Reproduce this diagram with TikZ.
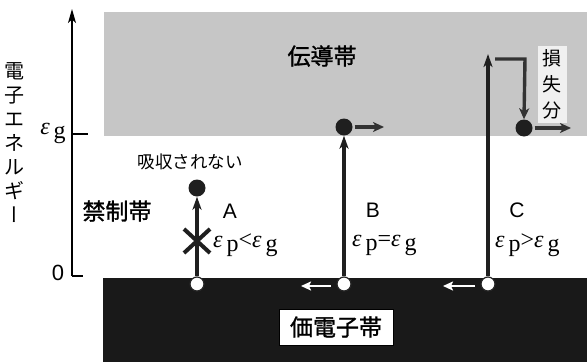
\documentclass[tikz,border=0pt]{standalone}
\usepackage{fontspec}
\setmainfont{Liberation Serif}
\newfontfamily\jp{Noto Sans CJK JP}
\newfontfamily\jpb[FakeBold=1.3]{Noto Sans CJK JP}
\newfontfamily\lat{Liberation Sans}
\usetikzlibrary{arrows.meta}
\newcommand\epsf[1]{{\itshape ε}\hspace{4pt}\raisebox{-4pt}{#1}}
\begin{document}
\begin{tikzpicture}[x=1pt,y=-1pt,
  hole/.style={circle,draw=black!85,fill=white,line width=1.2pt,minimum size=14pt,inner sep=0pt},
  elec/.style={circle,fill=black!88,minimum size=17pt,inner sep=0pt},
  upar/.style={line width=3.2pt,black!88,-{Stealth[length=13pt,width=9pt,inset=3.5pt]}},
  movear/.style={line width=3.6pt,black!80,-{Stealth[length=11pt,width=10pt,inset=3pt]}},
  wmove/.style={line width=2.8pt,white,-{Stealth[length=10pt,width=9pt,inset=2pt]}},
  jtxt/.style={font=\jpb\fontsize{23}{26}\selectfont,inner sep=0pt},
  jsmall/.style={font=\jp\fontsize{17.5}{20}\selectfont,inner sep=0pt},
  abc/.style={font=\lat\fontsize{21}{24}\selectfont,inner sep=0pt},
  eqn/.style={font=\fontsize{24}{26}\selectfont,inner sep=0pt,anchor=west}
]
\useasboundingbox (0,0) rectangle (587,362);
\fill[white] (0,0) rectangle (587,362);
% bands
\fill[gray!45] (104,12) rectangle (587,136);
\fill[black!90] (103,278) rectangle (587,362);
% axis
\coordinate (ax0) at (72,276);
\coordinate (axtop) at (72,9);
\coordinate (ax0r) at (83,276);
\coordinate (axg) at (72,134);
\coordinate (axgr) at (88,134);
\draw[line width=1.4pt,-{Stealth[length=14pt,width=8pt,inset=3.5pt]}] (ax0) -- (axtop);
\draw[line width=1.4pt] (ax0) -- (ax0r);
\draw[line width=1.4pt] (axg) -- (axgr);
\node[font=\lat\fontsize{22}{24}\selectfont,inner sep=0pt] (zero) at (58,273) {0};
\node[font=\fontsize{24}{26}\selectfont,inner sep=0pt] (eglab) at (53,133) {\epsf{g}};
\node[font=\jp\fontsize{20}{24}\selectfont,inner sep=0pt,align=center] (ylab) at (15,143)
  {電\\子\\エ\\ネ\\ル\\ギ\\{\addfontfeature{RawFeature=+vert}ー}};
% band labels
\node[jtxt] (cb) at (322,56) {伝導帯};
\node[jtxt] (gap) at (117,211) {禁制帯};
\node[draw=black,fill=white,line width=0.6pt,minimum width=114pt,minimum height=36pt,inner sep=0pt,font=\jpb\fontsize{23}{26}\selectfont] (vb) at (336,327) {価電子帯};
\node[fill=white!88!gray,minimum width=29pt,minimum height=77pt,inner sep=0pt,align=center,font=\jp\fontsize{19}{26}\selectfont] (loss) at (552,84) {損\\失\\分};
% A
\node[hole] (hA) at (197,284) {};
\node[elec] (eA) at (197,188) {};
\draw[upar] (hA.north) -- (eA.south);
\coordinate (xA1) at (184,229);
\coordinate (xA2) at (210,253);
\coordinate (xA3) at (210,229);
\coordinate (xA4) at (184,253);
\draw[line width=4pt,black!88] (xA1) -- (xA2) (xA3) -- (xA4);
\node[jsmall] (noabs) at (190,162) {吸収されない};
\node[abc] (lA) at (230,211) {A};
\node[eqn] (fA) at (213,245) {\epsf{p}<\epsf{g}};
% B
\node[hole] (hB) at (344,284) {};
\node[elec] (eB) at (344,127) {};
\draw[upar] (hB.north) -- (eB.south);
\coordinate (mB) at (384,127);
\draw[movear] (eB.east) ++(2,0) -- (mB);
\coordinate (wB1) at (331,286);
\coordinate (wB2) at (301,286);
\draw[wmove] (wB1) -- (wB2);
\node[abc] (lB) at (373,210) {B};
\node[eqn] (fB) at (352,245) {\epsf{p}=\epsf{g}};
% C
\node[hole] (hC) at (488,284) {};
\coordinate (cT) at (488,54);
\draw[upar] (hC.north) -- (cT);
\node[elec] (eC) at (524,128) {};
\coordinate (b1) at (495,59);
\coordinate (b2) at (525,59);
\draw[movear,line width=3.4pt] (b1) -- (b2) -- (eC.north);
\coordinate (mC) at (571,128);
\draw[movear] (eC.east) ++(2,0) -- (mC);
\coordinate (wC1) at (475,286);
\coordinate (wC2) at (443,286);
\draw[wmove] (wC1) -- (wC2);
\node[abc] (lC) at (517,210) {C};
\node[eqn] (fC) at (495,245) {\epsf{p}>\epsf{g}};
\end{tikzpicture}
\end{document}
